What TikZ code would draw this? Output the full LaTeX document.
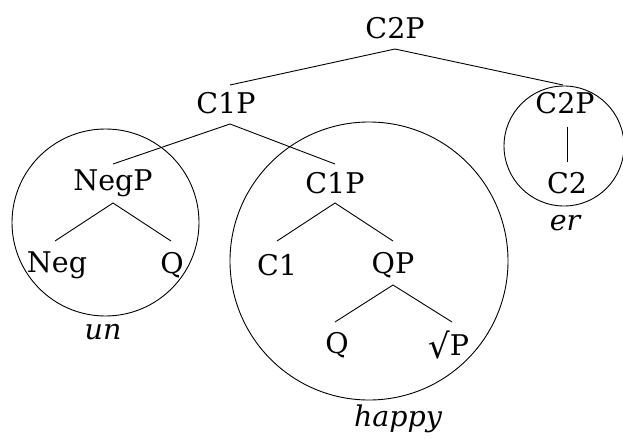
\documentclass[tikz,border=0pt]{standalone}
\usepackage{fontspec}
\setmainfont{DejaVu Serif}
\begin{document}
\begin{tikzpicture}[x=1pt,y=-1pt,
  lab/.style={inner sep=0pt,font=\fontsize{28.5}{32}\selectfont},
  word/.style={inner sep=0pt,font=\fontsize{28.5}{32}\selectfont\itshape},
  edge/.style={line width=0.9pt},
  ring/.style={draw,line width=0.9pt}]
\useasboundingbox (0,0) rectangle (623,441);
% nodes
\node[lab] (top) at (395,28) {C2P};
\node[lab] (c1p) at (226,103) {C1P};
\node[lab] (c2pr) at (565,103) {C2P};
\node[lab] (negp) at (113,183) {NegP};
\node[lab] (c1pl) at (335,183) {C1P};
\node[lab] (c2) at (567,183) {C2};
\node[lab] (neg) at (57,265) {Neg};
\node[lab] (q1) at (172,265) {Q};
\node[lab] (c1) at (277,265) {C1};
\node[lab] (qp) at (393,265) {QP};
\node[lab] (q2) at (337,345) {Q};
\node[lab,anchor=base west] (rp) at (428,355) {{\fontsize{34}{34}\selectfont\raisebox{-3pt}{√}}P};
\node[word] (un) at (103,332) {un};
\node[word] (er) at (565,223) {er};
\node[word] (happy) at (398,419) {happy};
% connector anchor points
\coordinate (topb) at (395,49);
\coordinate (c1pt) at (230,85);
\coordinate (c2prt) at (563,85);
\coordinate (c1pb) at (230,124);
\coordinate (negpt) at (113,164);
\coordinate (c1plt) at (335,164);
\coordinate (negpb) at (113,203);
\coordinate (negt) at (55,241);
\coordinate (q1t) at (171,241);
\coordinate (c1plb) at (335,203);
\coordinate (c1t) at (277,241);
\coordinate (qpt) at (393,241);
\coordinate (qpb) at (393,285);
\coordinate (q2t) at (335,322);
\coordinate (rpt) at (452,322);
\coordinate (c2prb) at (567,127);
\coordinate (c2t) at (567,162);
% edges
\draw[edge] (c1pt) -- (topb) -- (c2prt);
\draw[edge] (negpt) -- (c1pb) -- (c1plt);
\draw[edge] (negt) -- (negpb) -- (q1t);
\draw[edge] (c1t) -- (c1plb) -- (qpt);
\draw[edge] (q2t) -- (qpb) -- (rpt);
\draw[edge] (c2prb) -- (c2t);
% circles
\draw[ring] (105.5,222.5) circle[radius=93.5];
\draw[ring] (369,261) circle[radius=139];
\draw[ring] (564,146) circle[radius=60];
\end{tikzpicture}
\end{document}
